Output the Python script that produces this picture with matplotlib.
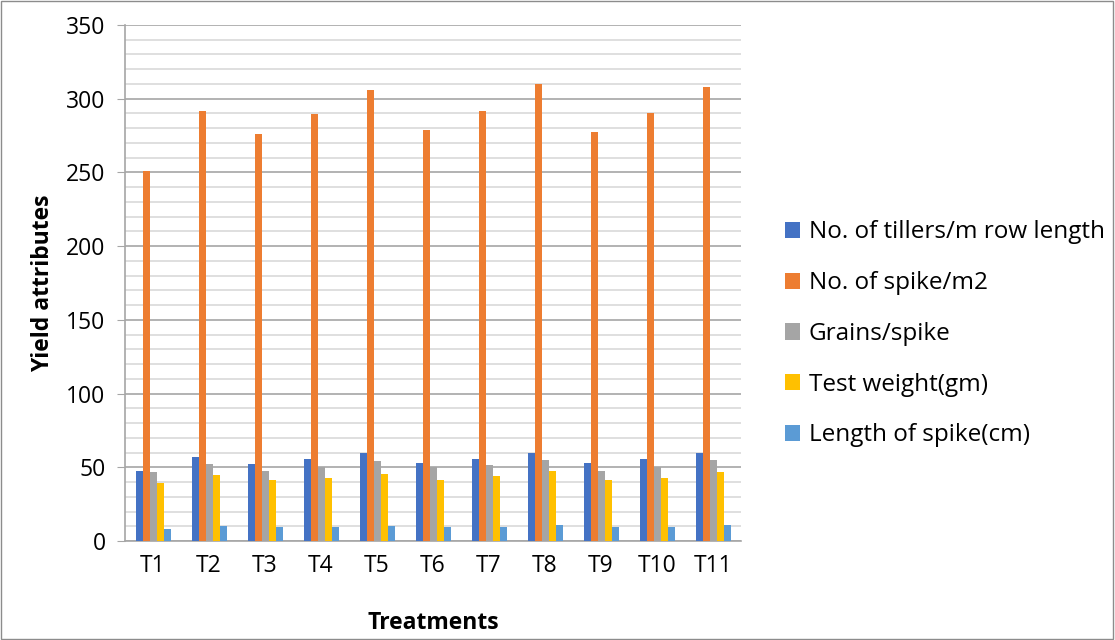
import numpy as np
import matplotlib.pyplot as plt
from matplotlib.patches import Rectangle

plt.rcParams['font.family'] = ['Open Sans', 'DejaVu Sans']

treatments = ["T1", "T2", "T3", "T4", "T5", "T6", "T7", "T8", "T9", "T10", "T11"]
tillers = [47.5, 56.8, 52.3, 55.7, 59.7, 53.0, 55.7, 59.7, 53.0, 55.7, 59.7]
spikes_m2 = [251, 291.5, 276, 289.6, 306, 279, 291.5, 309.7, 277.7, 290.3, 307.7]
grains = [46.6, 52.3, 47.5, 50.0, 54.0, 50.0, 51.4, 55.0, 47.5, 50.0, 55.0]
test_weight = [39.6, 45.0, 41.2, 43.0, 45.7, 41.2, 44.1, 47.7, 41.2, 43.0, 46.8]
spike_len = [8.1, 10.0, 9.3, 9.3, 10.0, 9.3, 9.3, 10.9, 9.3, 9.3, 10.9]

series = [
    ("No. of tillers/m row length", tillers, "#4472C4"),
    ("No. of spike/m2", spikes_m2, "#ED7D31"),
    ("Grains/spike", grains, "#A5A5A5"),
    ("Test weight(gm)", test_weight, "#FFC000"),
    ("Length of spike(cm)", spike_len, "#5B9BD5"),
]

fig = plt.figure(figsize=(11.15, 6.4), dpi=100)
ax = fig.add_axes([125 / 1115, 1 - 541 / 640, 616 / 1115, 516 / 640])

# figure frame
fig.patches.append(Rectangle((0.001, 0.001), 0.997, 0.997, transform=fig.transFigure,
                             fill=False, edgecolor="#8c8c8c", linewidth=1))

x = np.arange(len(treatments))
w = 0.125
for i, (name, vals, col) in enumerate(series):
    ax.bar(x + (i - 2) * w, vals, width=w, color=col, label=name, zorder=3)

ax.set_xlim(-0.5, len(treatments) - 0.5)
ax.set_ylim(0, 350)
ax.set_yticks(np.arange(0, 351, 50))
ax.set_yticks(np.arange(0, 351, 10), minor=True)
ax.grid(axis="y", which="minor", color="#d9d9d9", linewidth=1.2, zorder=0)
ax.grid(axis="y", which="major", color="#a6a6a6", linewidth=1.2, zorder=1)
ax.set_xticks(x)
ax.set_xticklabels(treatments)

for s in ["top", "right"]:
    ax.spines[s].set_visible(False)
ax.spines["left"].set_color("#a6a6a6")
ax.spines["bottom"].set_color("#a6a6a6")
ax.spines["left"].set_linewidth(1.2)
ax.spines["bottom"].set_linewidth(1.2)
ax.tick_params(axis="y", which="major", length=6, color="#a6a6a6", labelsize=16.5, pad=8)
ax.tick_params(axis="y", which="minor", length=0)
ax.tick_params(axis="x", length=0, labelsize=16.5, pad=9)

ax.set_xlabel("Treatments", fontsize=16.5, fontweight="bold", labelpad=24)
ax.set_ylabel("Yield attributes", fontsize=16.5, fontweight="bold", labelpad=8)

leg = ax.legend(loc="upper left", bbox_to_anchor=(1.055, 0.64), frameon=False,
                fontsize=17.5, handlelength=0.65, handleheight=0.65, handletextpad=0.35,
                labelspacing=1.1, borderaxespad=0)

fig.savefig("out.png", dpi=100)
